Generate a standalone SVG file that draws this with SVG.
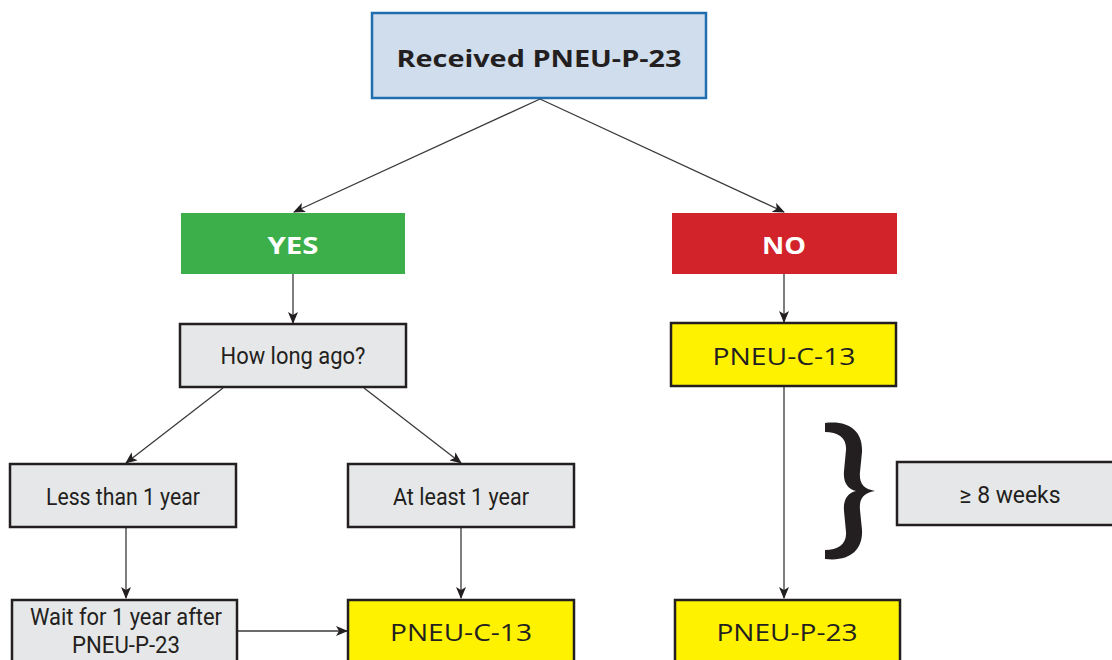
<svg xmlns="http://www.w3.org/2000/svg" width="1112" height="660" viewBox="0 0 1112 660">
<style>
.gray{fill:#e6e7e8;stroke:#231f20;stroke-width:2.5}
.yel{fill:#fff200;stroke:#231f20;stroke-width:2.5}
.t{font-family:"Roboto",sans-serif;font-size:24px;fill:#231f20;text-anchor:middle;dominant-baseline:central}
.ty{font-family:"Open Sans","Liberation Sans",sans-serif;font-size:24px;fill:#231f20;text-anchor:middle;dominant-baseline:central}
.tb{font-family:"Open Sans","Liberation Sans",sans-serif;font-weight:bold;font-size:24px;text-anchor:middle;dominant-baseline:central}
.c{stroke:#3a3a3a;stroke-width:1.3;fill:none;marker-end:url(#ah)}
</style>
<defs>
<marker id="ah" viewBox="0 0 12 10" refX="11" refY="5" markerWidth="12" markerHeight="10" markerUnits="userSpaceOnUse" orient="auto">
<path d="M0,0 L12,5 L0,10 L3,5 Z" fill="#231f20"/>
</marker>
</defs>
<rect width="1112" height="660" fill="#fff"/>
<g id="connectors">
<line class="c" x1="540" y1="99" x2="294" y2="212"/>
<line class="c" x1="540" y1="99" x2="784" y2="212"/>
<line class="c" x1="293" y1="274" x2="293" y2="323"/>
<line class="c" x1="784" y1="274" x2="784" y2="322"/>
<line class="c" x1="223" y1="388" x2="126" y2="463"/>
<line class="c" x1="364" y1="388" x2="461" y2="463"/>
<line class="c" x1="126" y1="528" x2="126" y2="598"/>
<line class="c" x1="461" y1="528" x2="461" y2="598"/>
<line class="c" x1="238" y1="631" x2="347" y2="631"/>
<line class="c" x1="784" y1="387" x2="784" y2="598"/>
</g>
<g id="n-top">
<rect x="372" y="13" width="334" height="85" fill="#d0ddec" stroke="#1f6eb0" stroke-width="2.5"/>
<text class="tb" x="539" y="57" fill="#231f20" textLength="285" lengthAdjust="spacingAndGlyphs">Received PNEU-P-23</text>
</g>
<g id="n-yes">
<rect x="181" y="213" width="224" height="61" fill="#3daf4a"/>
<text class="tb" x="293" y="244" fill="#fff" textLength="51" lengthAdjust="spacingAndGlyphs">YES</text>
</g>
<g id="n-no">
<rect x="672" y="213" width="225" height="61" fill="#d2232a"/>
<text class="tb" x="784" y="244" fill="#fff" textLength="44" lengthAdjust="spacingAndGlyphs">NO</text>
</g>
<g id="n-howlong">
<rect class="gray" x="180" y="324" width="226" height="63"/>
<text class="t" x="293" y="356" textLength="145" lengthAdjust="spacingAndGlyphs">How long ago?</text>
</g>
<g id="n-c13-right">
<rect class="yel" x="671" y="323" width="225" height="63"/>
<text class="ty" x="784" y="355" textLength="143" lengthAdjust="spacingAndGlyphs">PNEU-C-13</text>
</g>
<g id="n-less">
<rect class="gray" x="10" y="464" width="226" height="63"/>
<text class="t" x="123" y="497" textLength="154" lengthAdjust="spacingAndGlyphs">Less than 1 year</text>
</g>
<g id="n-atleast">
<rect class="gray" x="348" y="464" width="226" height="63"/>
<text class="t" x="461" y="497" textLength="136" lengthAdjust="spacingAndGlyphs">At least 1 year</text>
</g>
<g id="n-wait">
<rect class="gray" x="12" y="600" width="225" height="75"/>
<text class="t" x="126" y="617" textLength="192" lengthAdjust="spacingAndGlyphs">Wait for 1 year after</text>
<text class="t" x="126" y="645" textLength="108" lengthAdjust="spacingAndGlyphs">PNEU-P-23</text>
</g>
<g id="n-c13-bottom">
<rect class="yel" x="348" y="600" width="226" height="75"/>
<text class="ty" x="461" y="631" textLength="142" lengthAdjust="spacingAndGlyphs">PNEU-C-13</text>
</g>
<g id="n-p23-bottom">
<rect class="yel" x="675" y="600" width="225" height="75"/>
<text class="ty" x="787" y="631" textLength="141" lengthAdjust="spacingAndGlyphs">PNEU-P-23</text>
</g>
<g id="n-weeks">
<rect class="gray" x="897" y="462" width="225" height="63"/>
<text class="t" x="1010" y="495" textLength="101" lengthAdjust="spacingAndGlyphs">≥ 8 weeks</text>
</g>
<g id="brace">
<path d="M825,423 C850,420 863,432 862,452 L860,472 C859,483 863,489 875,491 C863,493 859,499 860,510 L862,530 C863,550 850,562 825,559 L825,550 C838,550 847,544 846,532 L844,511 C843,499 848,493 856,491 C848,489 843,483 844,471 L846,450 C847,438 838,432 825,432 Z" fill="#231f20"/>
</g>
</svg>
